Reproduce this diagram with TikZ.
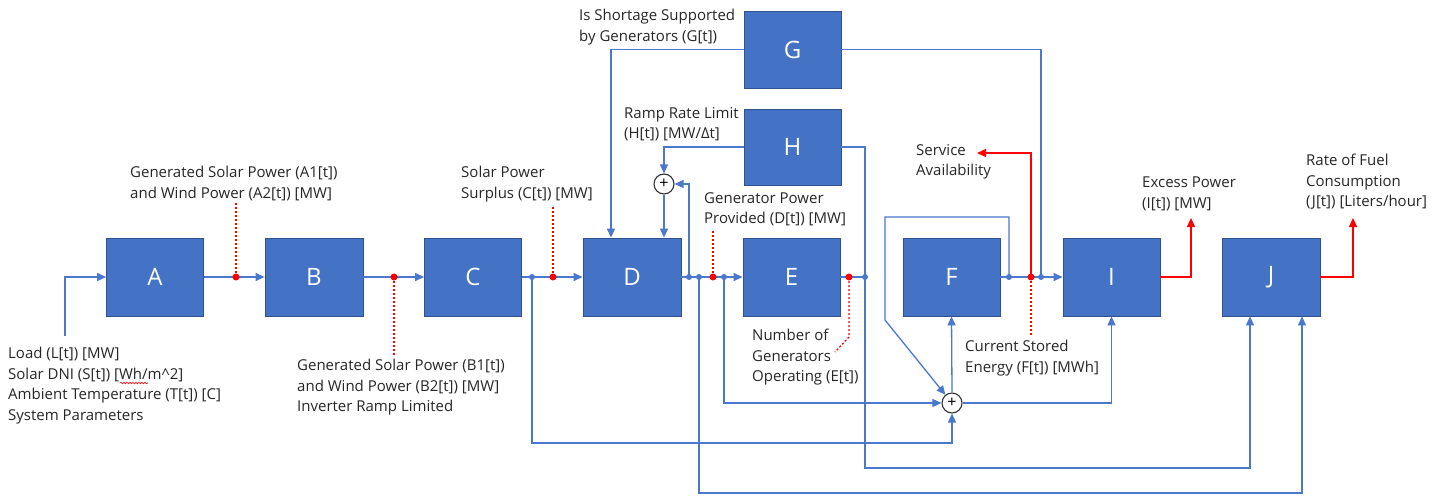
\documentclass[tikz,border=0pt]{standalone}
\usepackage{fontspec}
\setmainfont{Open Sans}
\usetikzlibrary{arrows.meta,decorations.pathmorphing}
\definecolor{obox}{HTML}{4472C4}
\definecolor{oedge}{HTML}{2F528F}
\definecolor{oline}{HTML}{4A78CC}
\definecolor{ored}{HTML}{FF0000}
\begin{document}
\begin{tikzpicture}[x=1pt,y=-1pt,
 box/.style={draw=oedge,line width=0.8pt,fill=obox,minimum width=97pt,minimum height=78pt,inner sep=0pt,text=white,font=\fontsize{24}{28}\selectfont},
 flow/.style={draw=oline,line width=1.3pt,-{Triangle[length=9pt,width=8pt]}},
 wire/.style={draw=oline,line width=1.3pt},
 rflow/.style={draw=ored,line width=1.3pt,-{Triangle[length=9pt,width=8pt]}},
 rdotted/.style={draw=ored,line width=1.3pt,dash pattern=on 2pt off 2pt},
 bdot/.style={circle,fill=oline,inner sep=0pt,minimum size=6pt},
 reddot/.style={circle,fill=ored,inner sep=0pt,minimum size=7pt},
 sum/.style={circle,draw=black!80,line width=1.1pt,minimum size=20pt,inner sep=0pt,font=\fontsize{16}{16}\selectfont},
 lbl/.style={anchor=north west,inner sep=0pt,align=left,font=\fontsize{15}{20.5}\selectfont,text=black!85}
]
\useasboundingbox (0,0) rectangle (1447,498);
% boxes
\node[box] (A) at (155,277) {A};
\node[box,minimum width=98pt] (B) at (314,277) {B};
\node[box] (C) at (473,277) {C};
\node[box,minimum width=98pt] (D) at (632,277) {D};
\node[box] (E) at (791.5,277) {E};
\node[box] (F) at (951.5,277) {F};
\node[box] (I) at (1111.5,277) {I};
\node[box,minimum width=98pt] (J) at (1271,277) {J};
\node[box,minimum height=77pt] (G) at (792.5,49.5) {G};
\node[box,minimum height=76pt] (H) at (792.5,147) {H};
\node[sum] (S1) at (664,184) {+};
\node[sum] (S2) at (952,403) {+};
% junction points
\coordinate (pAB) at (236,277);
\coordinate (pBC) at (394,277);
\coordinate (pC1) at (532,277);
\coordinate (pC2) at (553,277);
\coordinate (pD1) at (689,277);
\coordinate (pD2) at (699,277);
\coordinate (pD) at (713,277);
\coordinate (pD3) at (724,277);
\coordinate (pE1) at (849,277);
\coordinate (pE) at (865,277);
\coordinate (pF1) at (1009,277);
\coordinate (pF) at (1031,277);
\coordinate (pF2) at (1041,277);
% corners and free ends
\coordinate (in0) at (65,336);
\coordinate (cH) at (865,468);
\coordinate (cB) at (699,493);
\coordinate (cC) at (532,443);
\coordinate (cF1) at (885,217);
\coordinate (cF2) at (885,320);
\coordinate (cSA) at (977,153);
\coordinate (cI) at (1191,218);
\coordinate (cJ) at (1353,218);
\coordinate (tAB) at (236,203);
\coordinate (tBC) at (394,355);
\coordinate (tC) at (553,205);
\coordinate (tD) at (713,230);
\coordinate (tE1) at (849,337);
\coordinate (tE2) at (835,352);
\coordinate (tF) at (1031,335);
% blue connectors
\draw[flow] (in0) |- (A.west);
\draw[flow] (A.east) -- (B.west);
\draw[flow] (B.east) -- (C.west);
\draw[flow] (C.east) -- (D.west);
\draw[flow] (D.east) -- (E.west);
\draw[wire] (E.east) -- (pE);
\draw[flow] (F.east) -- (I.west);
\draw[flow] (G.west) -| ([xshift=-21pt]D.north);
\draw[wire] (G.east) -| (pF2);
\draw[flow] (H.west) -| (S1.north);
\draw[flow] (S1.south) -- (S1.south |- D.north);
\draw[flow] (pD1) |- (S1.east);
\draw[flow] (H.east) -| (cH) -| ([xshift=-21pt]J.south);
\draw[flow] (pD2) -- (cB) -| ([xshift=31pt]J.south);
\draw[flow] (pC1) -- (cC) -| (S2.south);
\draw[flow] (pD3) |- (S2.west);
\draw[flow] (pF1) |- (cF1) -- (cF2) -- (S2);
\draw[flow] (S2.north) -- (F.south);
\draw[flow] (S2.east) -| (I.south);
% red connectors
\draw[rflow] (pF) |- (cSA);
\draw[rflow] (I.east) -| (cI);
\draw[rflow] (J.east) -| (cJ);
\draw[rdotted] (pAB) -- (tAB);
\draw[rdotted] (pBC) -- (tBC);
\draw[rdotted] (pC2) -- (tC);
\draw[rdotted] (pD) -- (tD);
\draw[rdotted] (pE1) -- (tE1) -- (tE2);
\draw[rdotted] (pF) -- (tF);
% dots
\node[bdot] (dC1) at (pC1) {};
\node[bdot] (dD1) at (pD1) {};
\node[bdot] (dD2) at (pD2) {};
\node[bdot] (dD3) at (pD3) {};
\node[bdot] (dE) at (pE) {};
\node[bdot] (dF1) at (pF1) {};
\node[bdot] (dF2) at (pF2) {};
\node[reddot] (rAB) at (pAB) {};
\node[reddot] (rBC) at (pBC) {};
\node[reddot] (rC) at (pC2) {};
\node[reddot] (rD) at (pD) {};
\node[reddot] (rE) at (pE1) {};
\node[reddot] (rF) at (pF) {};
% labels
\node[lbl] (Lin) at (8,347) {Load (L[t]) [MW]\\Solar DNI (S[t]) [Wh/m\textasciicircum 2]\\Ambient Temperature (T[t]) [C]\\System Parameters};
\draw[ored,line width=0.6pt,decorate,decoration={snake,amplitude=0.8pt,segment length=3pt}] (120,383) -- (148,383);
\node[lbl] (LA) at (130,166) {Generated Solar Power (A1[t])\\and Wind Power (A2[t]) [MW]};
\node[lbl] (LB) at (297,359) {Generated Solar Power (B1[t])\\and Wind Power (B2[t]) [MW]\\Inverter Ramp Limited};
\node[lbl] (LC) at (461,166) {Solar Power\\Surplus (C[t]) [MW]};
\node[lbl] (LD) at (704,192) {Generator Power\\Provided (D[t]) [MW]};
\node[lbl] (LE) at (752,329) {Number of\\Generators\\Operating (E[t])};
\node[lbl] (LG) at (579,9) {Is Shortage Supported\\by Generators (G[t])};
\node[lbl] (LH) at (624,107) {Ramp Rate Limit\\(H[t]) [MW/Δt]};
\node[lbl] (LS) at (916,144) {Service\\Availability};
\node[lbl] (LF) at (965,340) {Current Stored\\Energy (F[t]) [MWh]};
\node[lbl] (LI) at (1142,177) {Excess Power\\(I[t]) [MW]};
\node[lbl] (LJ) at (1306,154) {Rate of Fuel\\Consumption\\(J[t]) [Liters/hour]};
\end{tikzpicture}
\end{document}
